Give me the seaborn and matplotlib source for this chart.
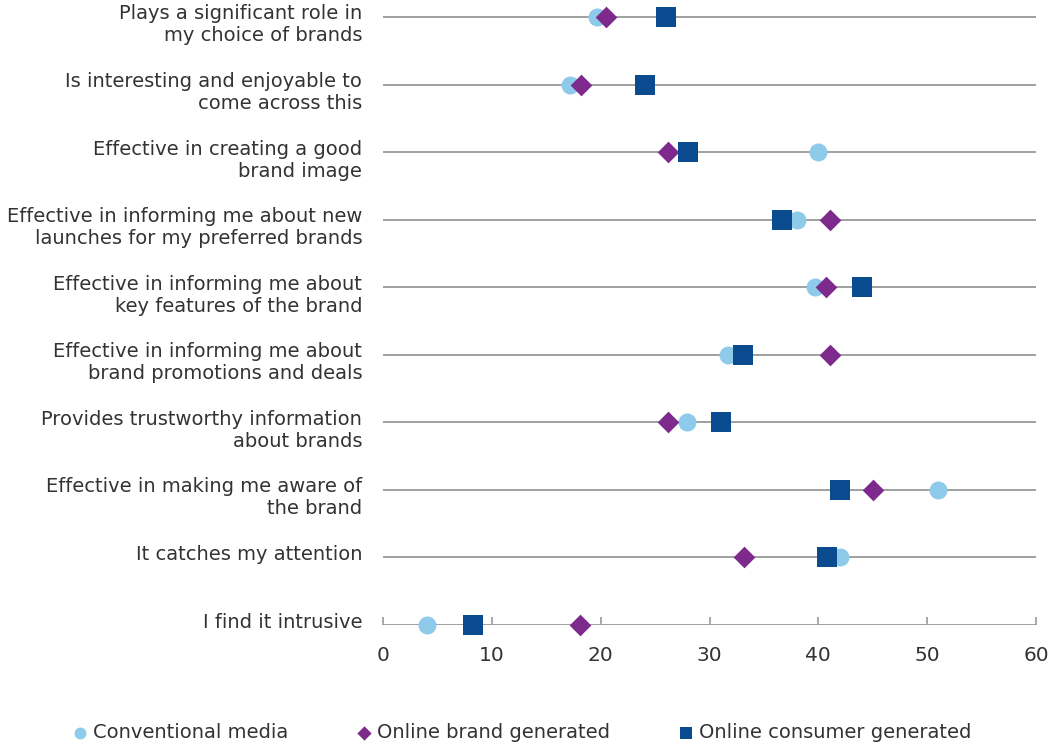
import matplotlib
matplotlib.use("Agg")
import matplotlib.pyplot as plt
import matplotlib.transforms as mtransforms
import seaborn as sns
import pandas as pd

# Statements, listed top to bottom
statements = [
    "Plays a significant role in\nmy choice of brands",
    "Is interesting and enjoyable to\ncome across this",
    "Effective in creating a good\nbrand image",
    "Effective in informing me about new\nlaunches for my preferred brands",
    "Effective in informing me about\nkey features of the brand",
    "Effective in informing me about\nbrand promotions and deals",
    "Provides trustworthy information\nabout brands",
    "Effective in making me aware of\nthe brand",
    "It catches my attention",
    "I find it intrusive",
]

# Share of respondents (%) per channel
conventional_media = [19.7, 17.2, 40.0, 38.0, 39.7, 31.7, 27.9, 51.0, 42.0, 4.0]
online_brand = [20.5, 18.2, 26.2, 41.1, 40.7, 41.1, 26.2, 45.0, 33.2, 18.1]
online_consumer = [26.0, 24.1, 28.0, 36.7, 44.0, 33.1, 31.1, 42.0, 40.8, 8.3]

series_names = ["Conventional media", "Online brand generated", "Online consumer generated"]
x_ticks = [0, 10, 20, 30, 40, 50, 60]

text_color = "#333333"
line_color = "#999999"
styles = {
    "Conventional media": dict(marker="o", s=168, color="#8ecbeb"),
    "Online brand generated": dict(marker="D", s=122, color="#7d2a8c"),
    "Online consumer generated": dict(marker="s", s=190, color="#0a4a8e"),
}

rows = list(range(len(statements)))
df = pd.DataFrame({
    "row": rows * 3,
    "value": conventional_media + online_brand + online_consumer,
    "series": [n for n in series_names for _ in rows],
})

sns.set_theme(style="white")
plt.rcParams["font.family"] = ["DejaVu Sans"]

fig = plt.figure(figsize=(10.49, 7.49), dpi=100)
ax = fig.add_axes([383 / 1049, 1 - 625 / 749, (1036 - 383) / 1049, 625 / 749])

# Row guide lines
for r in rows:
    ax.axhline(r, color=line_color, lw=1.3, zorder=1)

for name in series_names:
    st = styles[name]
    sub = df[df["series"] == name]
    sns.scatterplot(data=sub, x="value", y="row", marker=st["marker"], s=st["s"],
                    color=st["color"], linewidth=0, label=name, ax=ax,
                    zorder=3, clip_on=False)

ax.set_xlim(0, 60)
ax.set_ylim(9, -17 / 67.56)
for sp in ax.spines.values():
    sp.set_visible(False)

ax.set_xticks(x_ticks)
ax.set_xticklabels([str(t) for t in x_ticks])
ax.tick_params(axis="x", direction="in", length=6, width=1.2, color=line_color,
               pad=15, labelsize=14.5, labelcolor=text_color, bottom=True)

ax.set_yticks(rows)
ax.set_yticklabels(statements)
ax.tick_params(axis="y", length=0, pad=15, labelsize=14, labelcolor=text_color)
shift = mtransforms.ScaledTranslation(0, 9 / 72, fig.dpi_scale_trans)
for lab in ax.get_yticklabels():
    lab.set_verticalalignment("top")
    lab.set_horizontalalignment("right")
    lab.set_multialignment("right")
    lab.set_transform(lab.get_transform() + shift)

ax.set_xlabel("")
ax.set_ylabel("")
handles, labels = ax.get_legend_handles_labels()
ax.get_legend().remove()
fig.legend(handles, labels, loc="center left", bbox_to_anchor=(55 / 1049, 1 - 733 / 749),
           ncol=3, frameon=False, markerscale=0.66, handlelength=0.8,
           handletextpad=0.27, columnspacing=3.5, fontsize=14, labelcolor=text_color,
           borderpad=0.4)

fig.savefig("out.png", dpi=100)
